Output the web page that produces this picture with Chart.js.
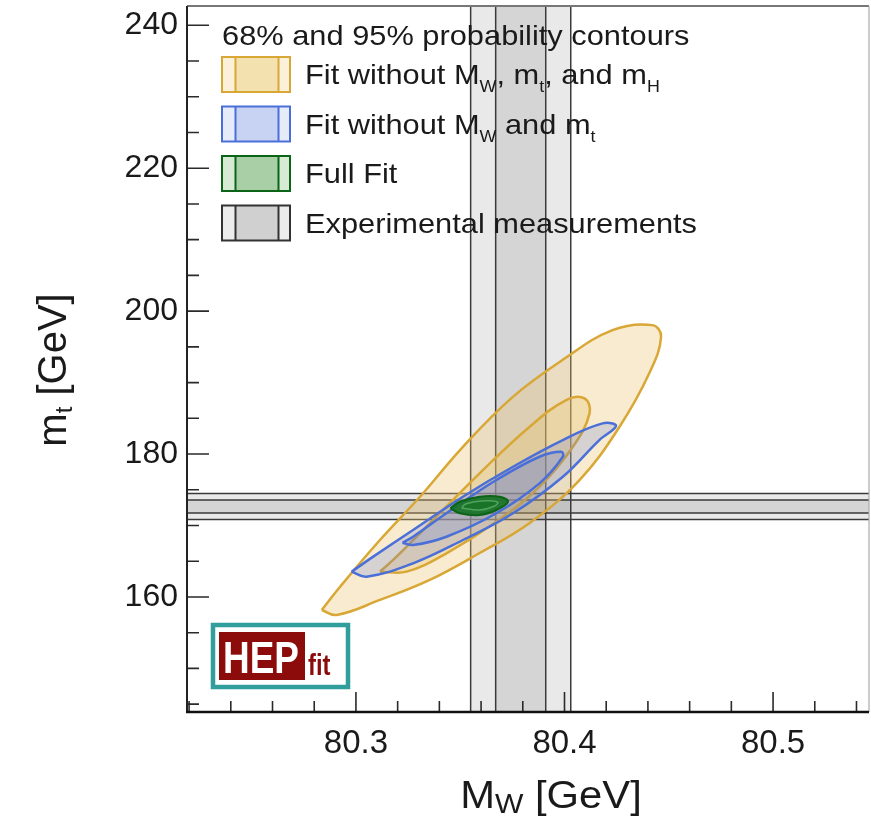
<!DOCTYPE html>
<html>
<head>
<meta charset="utf-8">
<script src="https://cdn.jsdelivr.net/npm/chart.js@4.4.0/dist/chart.umd.min.js"></script>
<style>
  html, body { margin: 0; padding: 0; background: #fff; }
  #wrap { width: 871px; height: 817px; }
</style>
</head>
<body>
<div id="wrap"><canvas id="c" width="871" height="817"></canvas></div>
<script>
// 軸の範囲と目盛り
const xRange = [80.219, 80.546];
const yRange = [143.9, 242.7];
const xMajorTicks = [80.3, 80.4, 80.5];
const yMajorTicks = [160, 180, 200, 220, 240];
const xMinorStep = 0.02;
const yMinorStep = 5;

// 実験値: 中心値, 1σ
const mwMeasurement = [80.379, 0.012];
const mtMeasurement = [172.66, 0.91];

// 等高線 (x = M_W, y = m_t)
const noMwMtMh95x = [80.2836, 80.2908, 80.3115, 80.3354, 80.3593, 80.3833, 80.4072, 80.4263, 80.4407, 80.4463, 80.4421, 80.4230, 80.3990, 80.3751, 80.3512, 80.3306, 80.3115, 80.2923, 80.2836];
const noMwMtMh95y = [158.18, 157.48, 159.58, 162.38, 166.15, 170.35, 176.36, 183.78, 191.33, 196.41, 198.04, 197.34, 193.15, 187.97, 180.98, 173.99, 167.97, 161.40, 158.18];
const noMwMtMh68x = [80.3115, 80.3243, 80.3434, 80.3673, 80.3880, 80.4040, 80.4120, 80.4096, 80.4008, 80.3833, 80.3593, 80.3370, 80.3195, 80.3115];
const noMwMtMh68y = [163.54, 163.54, 166.11, 170.53, 175.43, 181.02, 185.69, 187.79, 187.55, 183.82, 177.30, 170.77, 165.64, 163.54];
const noMwMt95x = [80.2979, 80.3051, 80.3274, 80.3513, 80.3753, 80.3992, 80.4167, 80.4247, 80.4183, 80.3992, 80.3753, 80.3513, 80.3274, 80.3083, 80.2979];
const noMwMt95y = [163.54, 162.84, 164.71, 167.97, 171.71, 176.83, 181.96, 183.92, 184.29, 181.96, 178.22, 174.03, 169.37, 165.64, 163.54];
const noMwMt68x = [80.3223, 80.3274, 80.3434, 80.3673, 80.3880, 80.3992, 80.3984, 80.3880, 80.3673, 80.3434, 80.3274, 80.3223];
const noMwMt68y = [167.59, 167.27, 168.43, 171.71, 175.90, 179.62, 180.32, 179.62, 176.36, 171.71, 168.43, 167.59];
const fullFit95x = [80.3453, 80.3498, 80.3593, 80.3673, 80.3729, 80.3689, 80.3593, 80.3498, 80.3453];
const fullFit95y = [172.41, 171.71, 171.47, 172.17, 173.33, 174.03, 174.03, 173.33, 172.41];
const fullFit68x = [80.3507, 80.3593, 80.3665, 80.3679, 80.3603, 80.3526, 80.3507];
const fullFit68y = [172.45, 172.17, 172.73, 173.29, 173.43, 173.01, 172.45];

// 凡例
const legendTitle = "68% and 95% probability contours";
const legendLabels = [
  [{ t: "Fit without M" }, { t: "W", sub: true }, { t: ", m" }, { t: "t", sub: true }, { t: ", and m" }, { t: "H", sub: true }],
  [{ t: "Fit without M" }, { t: "W", sub: true }, { t: " and m" }, { t: "t", sub: true }],
  [{ t: "Full Fit" }],
  [{ t: "Experimental measurements" }],
];
const xTitle = [{ t: "M" }, { t: "W", sub: true }, { t: " [GeV]" }];
const yTitle = [{ t: "m" }, { t: "t", sub: true }, { t: " [GeV]" }];

const FONT = '"Liberation Sans", Arial, sans-serif';

const yellow = { line: "#d8a735", fill: "rgba(235,195,110,0.33)", box1: "#fbf1db", box2: "#f4e1b0" };
const blue = { line: "#4a6fd8", fill: "rgba(90,120,220,0.22)", box1: "#e6ebf9", box2: "#c8d2f3" };
const green = { line: "#0b6418", fill: "rgba(25,115,40,0.92)", box1: "#d6ead4", box2: "#a9cfa6" };
const grey = { line: "#333333", box1: "#ececec", box2: "#d0d0d0" };

function pts(xs, ys) {
  return xs.map((v, i) => ({ x: v, y: ys[i] }));
}

function contour(xs, ys, col, width, order, lineColor) {
  return {
    data: pts(xs, ys),
    showLine: true,
    borderColor: lineColor || col.line,
    backgroundColor: col.fill,
    borderWidth: width,
    fill: "shape",
    tension: 0.4,
    pointRadius: 0,
    order: order,
  };
}

// 添字付きテキスト
function richWidth(ctx, parts, size, subScale) {
  let w = 0;
  parts.forEach((p) => {
    ctx.font = (p.sub ? size * subScale : size) + "px " + FONT;
    w += ctx.measureText(p.t).width;
  });
  return w;
}
function drawRich(ctx, parts, x, y, size, sx, subScale, subShift) {
  ctx.save();
  ctx.translate(x, y);
  ctx.scale(sx, 1);
  let cx = 0;
  parts.forEach((p) => {
    const fs = p.sub ? size * subScale : size;
    ctx.font = fs + "px " + FONT;
    ctx.fillText(p.t, cx, p.sub ? size * subShift : 0);
    cx += ctx.measureText(p.t).width;
  });
  ctx.restore();
}

// 測定値のバンド
const bandsPlugin = {
  id: "bands",
  beforeDatasetsDraw(chart) {
    const { ctx, chartArea: a, scales } = chart;
    const [mw, smw] = mwMeasurement;
    const [mt, smt] = mtMeasurement;
    const vx = [mw - 2 * smw, mw - smw, mw + smw, mw + 2 * smw].map((v) => scales.x.getPixelForValue(v));
    const hy = [mt - 2 * smt, mt - smt, mt + smt, mt + 2 * smt].map((v) => scales.y.getPixelForValue(v));
    ctx.save();
    ctx.beginPath();
    ctx.rect(a.left, a.top, a.right - a.left, a.bottom - a.top);
    ctx.clip();
    ctx.fillStyle = "rgba(0,0,0,0.085)";
    ctx.fillRect(vx[0], a.top, vx[3] - vx[0], a.bottom - a.top);
    ctx.fillRect(vx[1], a.top, vx[2] - vx[1], a.bottom - a.top);
    ctx.fillRect(a.left, hy[3], a.right - a.left, hy[0] - hy[3]);
    ctx.fillRect(a.left, hy[2], a.right - a.left, hy[1] - hy[2]);
    ctx.strokeStyle = "#3a3a3a";
    ctx.lineWidth = 1.5;
    ctx.beginPath();
    vx.forEach((px) => { ctx.moveTo(px, a.top); ctx.lineTo(px, a.bottom); });
    hy.forEach((py) => { ctx.moveTo(a.left, py); ctx.lineTo(a.right, py); });
    ctx.stroke();
    ctx.restore();
  },
};

// 枠と内向きの目盛り
const framePlugin = {
  id: "frame",
  afterDatasetsDraw(chart) {
    const { ctx, chartArea: a, scales } = chart;
    ctx.save();
    ctx.strokeStyle = "#2a2a2a";
    ctx.lineWidth = 1.6;
    ctx.beginPath();
    const eps = 1e-6;
    for (let k = Math.ceil(xRange[0] / xMinorStep - eps); k * xMinorStep <= xRange[1] + eps; k++) {
      const v = k * xMinorStep;
      const major = xMajorTicks.some((m) => Math.abs(m - v) < 1e-6);
      const px = scales.x.getPixelForValue(v);
      ctx.moveTo(px, a.bottom);
      ctx.lineTo(px, a.bottom - (major ? 20 : 11));
    }
    for (let k = Math.ceil(yRange[0] / yMinorStep - eps); k * yMinorStep <= yRange[1] + eps; k++) {
      const v = k * yMinorStep;
      const major = yMajorTicks.includes(v);
      const py = scales.y.getPixelForValue(v);
      ctx.moveTo(a.left, py);
      ctx.lineTo(a.left + (major ? 22 : 12), py);
    }
    ctx.stroke();

    // 枠
    ctx.lineWidth = 2;
    ctx.strokeStyle = "#777";
    ctx.beginPath();
    ctx.moveTo(a.left, a.top);
    ctx.lineTo(a.right, a.top);
    ctx.stroke();
    ctx.lineWidth = 1.2;
    ctx.strokeStyle = "#aaa";
    ctx.beginPath();
    ctx.moveTo(a.right, a.top);
    ctx.lineTo(a.right, a.bottom);
    ctx.stroke();
    ctx.lineWidth = 2;
    ctx.strokeStyle = "#222";
    ctx.beginPath();
    ctx.moveTo(a.left, a.top);
    ctx.lineTo(a.left, a.bottom);
    ctx.stroke();
    ctx.lineWidth = 2.5;
    ctx.strokeStyle = "#111";
    ctx.beginPath();
    ctx.moveTo(a.left - 1, a.bottom);
    ctx.lineTo(a.right, a.bottom);
    ctx.stroke();
    ctx.restore();
  },
};

// 凡例・ロゴ・軸タイトル
const decorPlugin = {
  id: "decor",
  afterDraw(chart) {
    const { ctx, chartArea: a } = chart;
    ctx.save();
    ctx.fillStyle = "#1a1a1a";
    ctx.textBaseline = "alphabetic";
    ctx.textAlign = "left";

    const lx = a.left + 35;
    drawRich(ctx, [{ t: legendTitle }], lx, a.top + 39, 28, 1.1, 0.58, 0.3);
    const cols = [yellow, blue, green, grey];
    cols.forEach((c, i) => {
      const by = a.top + 51 + i * 49.5;
      ctx.fillStyle = c.box1;
      ctx.fillRect(lx, by, 68, 35);
      ctx.fillStyle = c.box2;
      ctx.fillRect(lx + 13.5, by, 43, 35);
      ctx.strokeStyle = c.line;
      ctx.lineWidth = 2;
      ctx.strokeRect(lx, by, 68, 35);
      ctx.beginPath();
      ctx.moveTo(lx + 13.5, by);
      ctx.lineTo(lx + 13.5, by + 35);
      ctx.moveTo(lx + 56.5, by);
      ctx.lineTo(lx + 56.5, by + 35);
      ctx.stroke();
      ctx.fillStyle = "#1a1a1a";
      drawRich(ctx, legendLabels[i], lx + 83, by + 27, 28, 1.1, 0.58, 0.3);
    });

    // HEPfit ロゴ
    const gx = a.left + 26;
    const gy = a.bottom - 87;
    ctx.strokeStyle = "#2f9e9c";
    ctx.lineWidth = 4.5;
    ctx.strokeRect(gx, gy, 135, 62);
    ctx.fillStyle = "#8c0b0b";
    ctx.fillRect(gx + 6, gy + 7, 86, 48);
    ctx.font = "bold 44px " + FONT;
    ctx.save();
    ctx.translate(gx + 10, gy + 48);
    ctx.scale(0.84, 1);
    ctx.fillStyle = "#ffffff";
    ctx.fillText("HEP", 0, 0);
    ctx.restore();
    ctx.font = "bold 29px " + FONT;
    ctx.save();
    ctx.translate(gx + 95, gy + 50);
    ctx.scale(0.82, 1);
    ctx.fillStyle = "#8c0b0b";
    ctx.fillText("fit", 0, 0);
    ctx.restore();

    // 軸タイトル
    ctx.fillStyle = "#1a1a1a";
    const xs = 38, xsx = 1.1;
    const xw = richWidth(ctx, xTitle, xs, 0.72) * xsx;
    drawRich(ctx, xTitle, 551 - xw / 2, 808, xs, xsx, 0.72, 0.12);
    ctx.save();
    ctx.translate(66, 370);
    ctx.rotate(-Math.PI / 2);
    const ys = 40;
    const yw = richWidth(ctx, yTitle, ys, 0.6);
    drawRich(ctx, yTitle, -yw / 2, 0, ys, 1, 0.6, 0.15);
    ctx.restore();
    ctx.restore();
  },
};

new Chart(document.getElementById("c"), {
  type: "scatter",
  data: {
    datasets: [
      contour(noMwMtMh95x, noMwMtMh95y, yellow, 2.5, 6),
      contour(noMwMtMh68x, noMwMtMh68y, yellow, 2.5, 5),
      contour(noMwMt95x, noMwMt95y, blue, 2.5, 4),
      contour(noMwMt68x, noMwMt68y, blue, 2.5, 3),
      contour(fullFit95x, fullFit95y, green, 2, 2),
      contour(fullFit68x, fullFit68y, green, 1.5, 1, "#4fa45a"),
    ],
  },
  options: {
    responsive: false,
    animation: false,
    layout: { padding: { top: 6, right: 2, left: 0, bottom: 0 } },
    plugins: { legend: { display: false }, tooltip: { enabled: false } },
    scales: {
      x: {
        type: "linear",
        min: xRange[0],
        max: xRange[1],
        afterBuildTicks: (s) => { s.ticks = xMajorTicks.map((v) => ({ value: v })); },
        afterFit: (s) => { s.height = 105; s.paddingLeft = 0; s.paddingRight = 0; },
        grid: { display: false, drawTicks: false },
        border: { display: false },
        ticks: {
          padding: 12,
          color: "#1a1a1a",
          font: { family: FONT, size: 33 },
          maxRotation: 0,
          autoSkip: false,
          callback: (v) => v.toFixed(1),
        },
      },
      y: {
        type: "linear",
        min: yRange[0],
        max: yRange[1],
        afterBuildTicks: (s) => { s.ticks = yMajorTicks.map((v) => ({ value: v })); },
        afterFit: (s) => { s.width = 187; s.paddingTop = 0; s.paddingBottom = 0; },
        grid: { display: false, drawTicks: false },
        border: { display: false },
        ticks: {
          padding: 9,
          color: "#1a1a1a",
          font: { family: FONT, size: 32 },
          autoSkip: false,
          callback: (v) => String(v),
        },
      },
    },
  },
  plugins: [bandsPlugin, framePlugin, decorPlugin],
});
</script>
</body>
</html>
